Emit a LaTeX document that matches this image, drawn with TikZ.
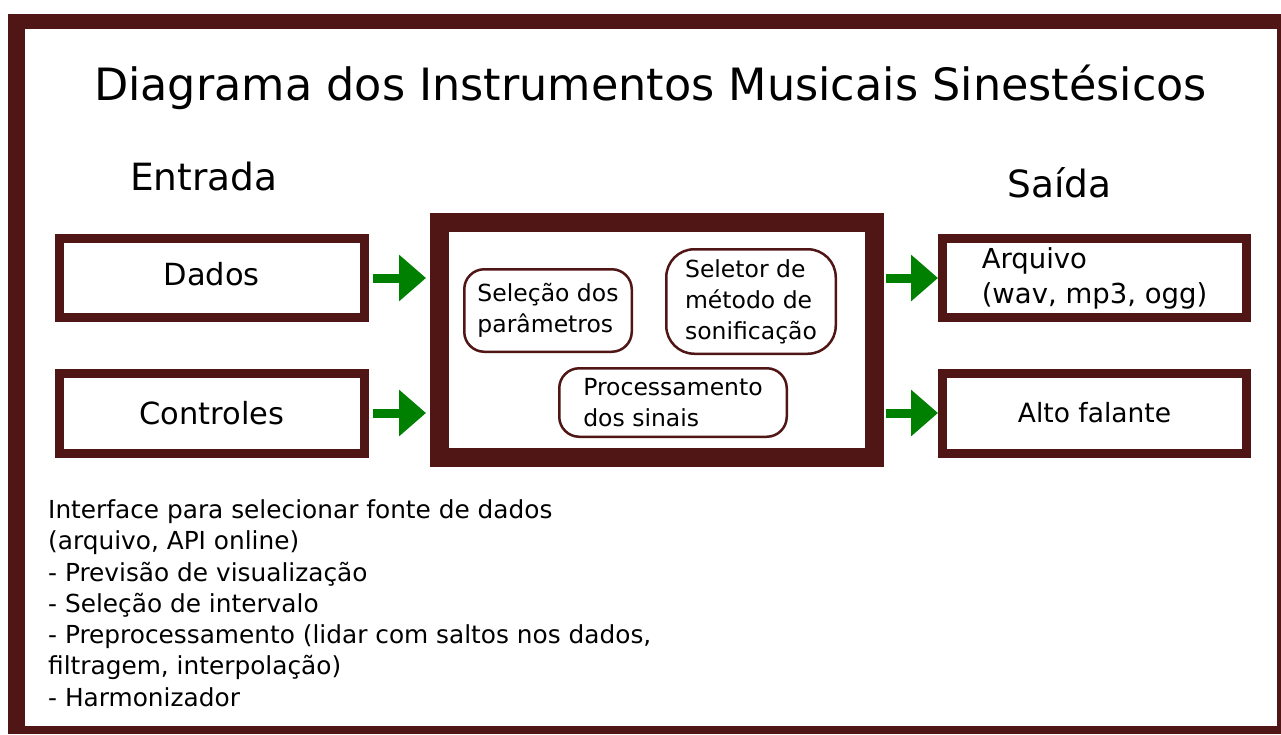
\documentclass[tikz,border=0pt]{standalone}
\usepackage{fontspec}
\setmainfont{DejaVu Sans}
\usetikzlibrary{arrows.meta}
\definecolor{framered}{RGB}{80,22,22}
\definecolor{arrowgreen}{RGB}{0,128,0}
\newcommand\myfs[2]{\fontsize{#1pt}{#2pt}\selectfont}
\begin{document}
\begin{tikzpicture}[x=1pt,y=-1pt,
  iobox/.style={draw=framered, line width=9pt, outer sep=4.5pt, minimum width=304.5pt, inner sep=0pt, fill=white},
  core/.style={draw=framered, line width=19pt, outer sep=9.5pt, minimum width=434.5pt, minimum height=235pt, inner sep=0pt},
  sub/.style={draw=framered, line width=2.5pt, align=left, inner sep=0pt, font=\myfs{23.5}{31}},
  arr/.style={draw=arrowgreen, line width=9pt, -{Triangle[length=27pt,width=45pt]}},
  heading/.style={anchor=base west, inner sep=0pt, font=\myfs{37.5}{45}}
]
\useasboundingbox (0,0) rectangle (1281,734);
\fill[framered] (8,14) rectangle (1281,734);
\fill[white] (25,29) rectangle (1277,726);

\node[anchor=base, inner sep=0pt, font=\myfs{44.5}{53}] (title) at (650.5,100) {Diagrama dos Instrumentos Musicais Sinestésicos};
\node[heading] (entrada) at (130,190) {Entrada};
\node[heading] (saida) at (1007,197) {Saída};

\node[iobox, minimum height=79pt, text depth=8pt, font=\myfs{30.5}{36}] (dados) at (211.75,278) {Dados};
\node[iobox, minimum height=80pt, font=\myfs{30.5}{36}] (controles) at (211.75,413) {Controles};

\node[core] (core) at (656.75,340) {};
\node[sub, rounded corners=20pt, minimum width=167.5pt, minimum height=82.5pt] (selecao) at (548,310.5) {Seleção dos\\parâmetros};
\node[sub, rounded corners=28pt, minimum width=169.5pt, minimum height=104.5pt] (seletor) at (751,301.5) {Seletor de\\método de\\sonificação};
\node[sub, rounded corners=20pt, minimum width=227.5pt, minimum height=68.5pt] (proc) at (673,402.5) {Processamento\\dos sinais};

\node[iobox, minimum width=304pt, minimum height=79pt, align=left, font=\myfs{27.5}{35}] (arquivo) at (1094.5,278) {Arquivo\\(wav, mp3, ogg)};
\node[iobox, minimum width=304pt, minimum height=80pt, font=\myfs{26.5}{32}] (alto) at (1094.5,413) {Alto falante};

\draw[arr, shorten <=4pt, shorten >=4pt] (dados.east) -- (dados.east -| core.west);
\draw[arr, shorten <=4pt, shorten >=4pt] (controles.east) -- (controles.east -| core.west);
\draw[arr, shorten <=2pt] (arquivo.west -| core.east) -- (arquivo.west);
\draw[arr, shorten <=2pt] (alto.west -| core.east) -- (alto.west);

\node[anchor=north west, align=left, inner sep=0pt, font=\myfs{24.8}{31.3}] (notas) at (48,499.4) {Interface para selecionar fonte de dados\\(arquivo, API online)\\- Previsão de visualização\\- Seleção de intervalo\\- Preprocessamento (lidar com saltos nos dados,\\filtragem, interpolação)\\- Harmonizador};
\end{tikzpicture}
\end{document}
